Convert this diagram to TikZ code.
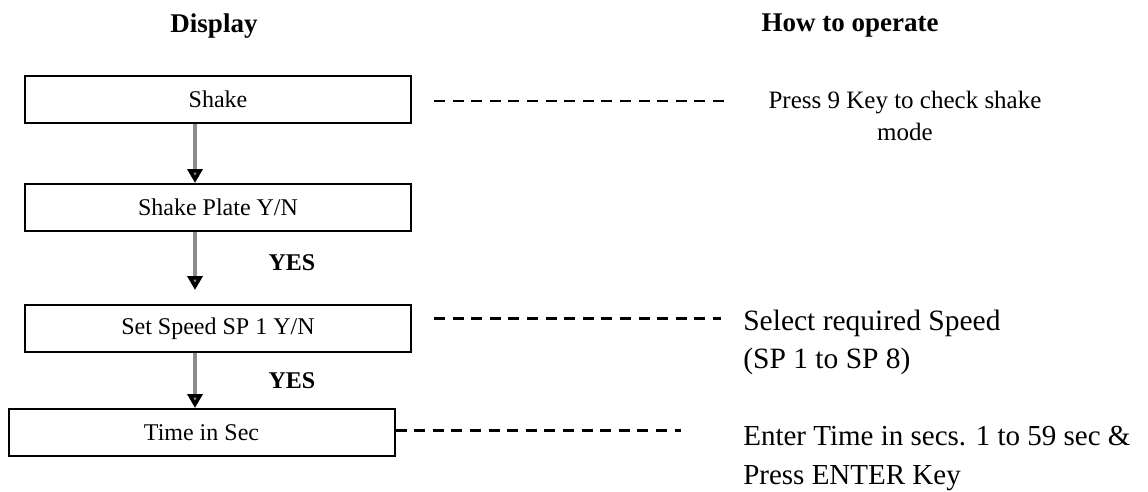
\documentclass[tikz,border=0pt]{standalone}
\usepackage{fontspec}
\setmainfont{Liberation Serif}
\usepackage{tikz}
\usetikzlibrary{arrows.meta,positioning}
\definecolor{shaftgray}{RGB}{140,140,140}

\begin{document}
\begin{tikzpicture}[x=1pt,y=1pt,->,>={Triangle[width=15pt,length=14pt,color=black]},semithick]
\tikzstyle{disp}=[draw=black,line width=2pt,minimum width=386pt,minimum height=47pt,inner sep=0pt,font=\fontsize{24}{29}\selectfont]
\tikzstyle{head}=[anchor=base,inner sep=0pt,font=\bfseries\fontsize{27}{32}\selectfont]
\tikzstyle{yes}=[anchor=base,inner sep=0pt,font=\bfseries\fontsize{24}{29}\selectfont]
\tikzstyle{hint}=[anchor=base west,inner sep=0pt,align=left]
\tikzstyle{flow}=[color=shaftgray,line width=3.5pt]
\tikzstyle{dots}=[-,line width=2.5pt,dash pattern=on 11pt off 7.6pt]

\useasboundingbox (0,0) rectangle (1148,-492);

% titles
\node[head] (Disp) at (214,-33) {Display};
\node[head] (Oper) at (850,-32) {How to operate};

% display steps
\node[disp] (S1) at (218,-99.5)              {Shake};
\node[disp] (S2) [below=59pt of S1]           {Shake Plate Y/N};
\node[disp] (S3) [below=72pt of S2]           {Set Speed SP 1 Y/N};
\node[disp] (S4) [below=55pt of S3,xshift=-16.5pt] {Time in Sec};

\node[yes] (Y1) at (292,-270) {YES};
\node[yes] (Y2) at (292,-388) {YES};

% how to operate (base = last line)
\node[anchor=base,inner sep=0pt,align=center,font=\fontsize{25}{32}\selectfont] (T1) at (905,-140) {Press 9 Key to check shake\\mode};
\node[hint,font=\fontsize{29.5}{38}\selectfont] (T3) at (743,-368) {Select required Speed\\(SP 1 to SP 8)};
\node[hint,font=\fontsize{29}{39}\selectfont] (T4) at (743,-484) {Enter Time in secs. 1 to 59 sec \&\\Press ENTER Key};

\path[flow] ([xshift=-23pt]S1.south) edge ([xshift=-23pt]S2.north)
            ([xshift=-23pt]S2.south) edge ([xshift=-23pt,yshift=14pt]S3.north)
            ([xshift=-23pt]S3.south) edge ([xshift=-6.5pt]S4.north);

\draw[dots] ([xshift=22pt,yshift=-1.5pt]S1.east) -- ([xshift=312pt,yshift=-1.5pt]S1.east);
\draw[dots] ([xshift=22pt,yshift=10pt]S3.east) -- ([xshift=309pt,yshift=10pt]S3.east);
\draw[dots] ([yshift=2pt]S4.east) -- ([xshift=285.5pt,yshift=2pt]S4.east);
\end{tikzpicture}
\end{document}
